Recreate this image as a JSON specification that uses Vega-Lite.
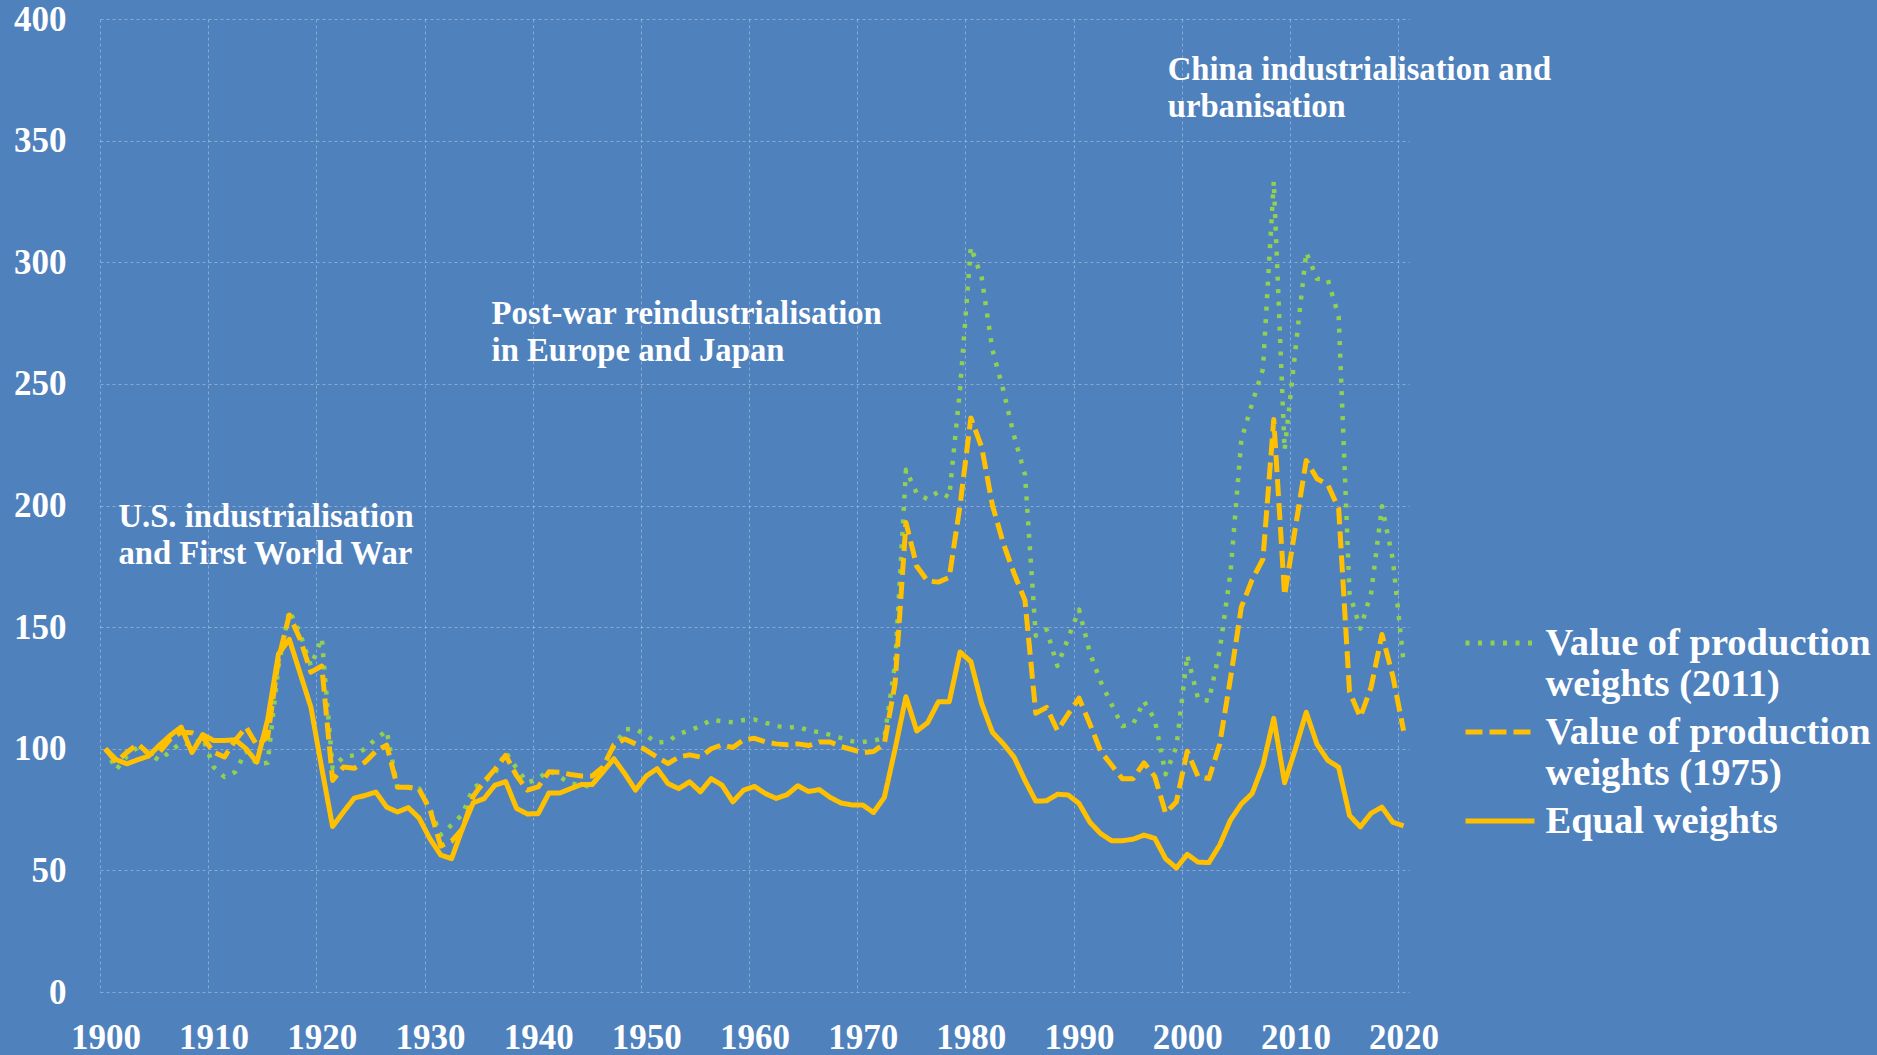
{
  "$schema": "https://vega.github.io/schema/vega-lite/v6.json",
  "width": 1309,
  "height": 973,
  "autosize": {"type": "none"},
  "padding": {"left": 100, "top": 19, "right": 468, "bottom": 63},
  "background": "#4F81BD",
  "datasets": {
    "index": [
      {"year":1900,"w2011":100,"w1975":100,"equal":100},
      {"year":1901,"w2011":91.4,"w1975":94.5,"equal":95.5},
      {"year":1902,"w2011":97,"w1975":98.6,"equal":93.8},
      {"year":1903,"w2011":100.7,"w1975":102,"equal":95.5},
      {"year":1904,"w2011":98,"w1975":98,"equal":97},
      {"year":1905,"w2011":95.2,"w1975":98.6,"equal":101.5},
      {"year":1906,"w2011":99,"w1975":104,"equal":105.5},
      {"year":1907,"w2011":102.5,"w1975":106.8,"equal":108.9},
      {"year":1908,"w2011":101.5,"w1975":106.6,"equal":98.5},
      {"year":1909,"w2011":104.5,"w1975":104.8,"equal":105.8},
      {"year":1910,"w2011":92.5,"w1975":98.6,"equal":103.4},
      {"year":1911,"w2011":88.4,"w1975":96.6,"equal":103.4},
      {"year":1912,"w2011":90.5,"w1975":103.4,"equal":103.7},
      {"year":1913,"w2011":99,"w1975":108.9,"equal":100},
      {"year":1914,"w2011":93.8,"w1975":101.4,"equal":94.5},
      {"year":1915,"w2011":94.2,"w1975":104.8,"equal":112},
      {"year":1916,"w2011":134,"w1975":137,"equal":139},
      {"year":1917,"w2011":156.8,"w1975":155,"equal":145},
      {"year":1918,"w2011":147.3,"w1975":145,"equal":131},
      {"year":1919,"w2011":134,"w1975":131.5,"equal":117},
      {"year":1920,"w2011":145.5,"w1975":134,"equal":92},
      {"year":1921,"w2011":92,"w1975":87,"equal":68},
      {"year":1922,"w2011":96.6,"w1975":92.5,"equal":74},
      {"year":1923,"w2011":97.3,"w1975":92,"equal":79.7},
      {"year":1924,"w2011":100,"w1975":94.5,"equal":80.8},
      {"year":1925,"w2011":104,"w1975":99,"equal":82.2},
      {"year":1926,"w2011":107.5,"w1975":101.5,"equal":76},
      {"year":1927,"w2011":83.8,"w1975":84.2,"equal":74},
      {"year":1928,"w2011":84,"w1975":84.2,"equal":75.8},
      {"year":1929,"w2011":83.6,"w1975":83.3,"equal":71.5},
      {"year":1930,"w2011":75.5,"w1975":75,"equal":63},
      {"year":1931,"w2011":64.6,"w1975":60,"equal":56.3},
      {"year":1932,"w2011":68.7,"w1975":62,"equal":54.8},
      {"year":1933,"w2011":73,"w1975":67,"equal":67.2},
      {"year":1934,"w2011":84,"w1975":80.5,"equal":77.8},
      {"year":1935,"w2011":86.4,"w1975":86.5,"equal":79.5},
      {"year":1936,"w2011":89.8,"w1975":91.5,"equal":85},
      {"year":1937,"w2011":98.6,"w1975":97.3,"equal":86.5},
      {"year":1938,"w2011":92,"w1975":89,"equal":75.5},
      {"year":1939,"w2011":86.1,"w1975":83,"equal":73.2},
      {"year":1940,"w2011":87.7,"w1975":84.3,"equal":73.3},
      {"year":1941,"w2011":91.1,"w1975":90.5,"equal":81.8},
      {"year":1942,"w2011":88.4,"w1975":90.3,"equal":81.8},
      {"year":1943,"w2011":85.7,"w1975":89.4,"equal":83.6},
      {"year":1944,"w2011":85,"w1975":88.8,"equal":85.3},
      {"year":1945,"w2011":84.3,"w1975":88.8,"equal":85.3},
      {"year":1946,"w2011":93,"w1975":92.5,"equal":90.5},
      {"year":1947,"w2011":100.7,"w1975":101.6,"equal":95.9},
      {"year":1948,"w2011":108,"w1975":104,"equal":89.8},
      {"year":1949,"w2011":108.2,"w1975":102,"equal":83},
      {"year":1950,"w2011":105.4,"w1975":99.3,"equal":88.8},
      {"year":1951,"w2011":102.5,"w1975":96.6,"equal":91.8},
      {"year":1952,"w2011":103,"w1975":93.9,"equal":85.7},
      {"year":1953,"w2011":106.1,"w1975":96.6,"equal":83.6},
      {"year":1954,"w2011":107.5,"w1975":97.5,"equal":86.4},
      {"year":1955,"w2011":109.3,"w1975":96.6,"equal":82.3},
      {"year":1956,"w2011":111.9,"w1975":100,"equal":87.7},
      {"year":1957,"w2011":111.3,"w1975":101.6,"equal":85},
      {"year":1958,"w2011":110.9,"w1975":100.5,"equal":78.2},
      {"year":1959,"w2011":111.8,"w1975":103.7,"equal":83},
      {"year":1960,"w2011":112,"w1975":104.3,"equal":84.5},
      {"year":1961,"w2011":110.7,"w1975":102.8,"equal":81.6},
      {"year":1962,"w2011":109.4,"w1975":102,"equal":79.6},
      {"year":1963,"w2011":108.6,"w1975":101.6,"equal":81.1},
      {"year":1964,"w2011":109.1,"w1975":102,"equal":84.8},
      {"year":1965,"w2011":107.5,"w1975":101.3,"equal":82.4},
      {"year":1966,"w2011":106.8,"w1975":102.8,"equal":83.2},
      {"year":1967,"w2011":105.7,"w1975":102.8,"equal":80},
      {"year":1968,"w2011":104.4,"w1975":100.9,"equal":77.7},
      {"year":1969,"w2011":103.1,"w1975":99.7,"equal":76.9},
      {"year":1970,"w2011":102.8,"w1975":98.4,"equal":76.9},
      {"year":1971,"w2011":103.3,"w1975":98.9,"equal":73.8},
      {"year":1972,"w2011":104.4,"w1975":102,"equal":80},
      {"year":1973,"w2011":135,"w1975":127,"equal":100},
      {"year":1974,"w2011":214.7,"w1975":193,"equal":121.4},
      {"year":1975,"w2011":205,"w1975":175,"equal":107.3},
      {"year":1976,"w2011":202.6,"w1975":169,"equal":110.7},
      {"year":1977,"w2011":205.7,"w1975":168.5,"equal":119.3},
      {"year":1978,"w2011":203.4,"w1975":170.4,"equal":119.3},
      {"year":1979,"w2011":248,"w1975":200,"equal":139.8},
      {"year":1980,"w2011":306.3,"w1975":236,"equal":135.8},
      {"year":1981,"w2011":293.7,"w1975":224,"equal":118.5},
      {"year":1982,"w2011":263.9,"w1975":200,"equal":106.7},
      {"year":1983,"w2011":247.4,"w1975":184.5,"equal":102},
      {"year":1984,"w2011":228.5,"w1975":172,"equal":96.5},
      {"year":1985,"w2011":212.8,"w1975":161,"equal":87},
      {"year":1986,"w2011":146.5,"w1975":114.6,"equal":78.5},
      {"year":1987,"w2011":149,"w1975":117,"equal":78.6},
      {"year":1988,"w2011":134,"w1975":107.5,"equal":81.3},
      {"year":1989,"w2011":145.5,"w1975":114.3,"equal":81},
      {"year":1990,"w2011":157.2,"w1975":120.8,"equal":77.5},
      {"year":1991,"w2011":139.4,"w1975":110.2,"equal":69.8},
      {"year":1992,"w2011":127.6,"w1975":99,"equal":65.1},
      {"year":1993,"w2011":118.3,"w1975":93.3,"equal":62.2},
      {"year":1994,"w2011":109.3,"w1975":87.7,"equal":62.2},
      {"year":1995,"w2011":110.2,"w1975":87.7,"equal":62.8},
      {"year":1996,"w2011":119.6,"w1975":94.2,"equal":64.5},
      {"year":1997,"w2011":112,"w1975":88.6,"equal":63.2},
      {"year":1998,"w2011":89.5,"w1975":73.5,"equal":54.8},
      {"year":1999,"w2011":100.8,"w1975":78.2,"equal":51},
      {"year":2000,"w2011":138.5,"w1975":99,"equal":56.6},
      {"year":2001,"w2011":120.6,"w1975":88.6,"equal":53.4},
      {"year":2002,"w2011":119.7,"w1975":87.7,"equal":53.2},
      {"year":2003,"w2011":140.4,"w1975":101.8,"equal":60.4},
      {"year":2004,"w2011":172.4,"w1975":129,"equal":70.7},
      {"year":2005,"w2011":227,"w1975":158.2,"equal":77.3},
      {"year":2006,"w2011":242,"w1975":169.5,"equal":81.6},
      {"year":2007,"w2011":256.1,"w1975":178,"equal":93.3},
      {"year":2008,"w2011":333.3,"w1975":235.4,"equal":112.5},
      {"year":2009,"w2011":222.8,"w1975":163,"equal":86},
      {"year":2010,"w2011":264,"w1975":191,"equal":99.9},
      {"year":2011,"w2011":304.1,"w1975":218.5,"equal":115},
      {"year":2012,"w2011":293.2,"w1975":211,"equal":101.8},
      {"year":2013,"w2011":292.8,"w1975":208.5,"equal":95.2},
      {"year":2014,"w2011":277.8,"w1975":198.7,"equal":92.4},
      {"year":2015,"w2011":164,"w1975":123.4,"equal":72.6},
      {"year":2016,"w2011":149.4,"w1975":113,"equal":67.9},
      {"year":2017,"w2011":164,"w1975":125.3,"equal":73.5},
      {"year":2018,"w2011":199.7,"w1975":147,"equal":76},
      {"year":2019,"w2011":178,"w1975":130,"equal":69.8},
      {"year":2020,"w2011":135.5,"w1975":107.4,"equal":68.3}
    ],
    "notes": [
      {"year": 1998.2, "value": 374.9, "label": "China industrialisation and\nurbanisation"},
      {"year": 1935.7, "value": 274.6, "label": "Post-war reindustrialisation\nin Europe and Japan"},
      {"year": 1901.2, "value": 191.2, "label": "U.S. industrialisation\nand First World War"}
    ]
  },
  "encoding": {
    "x": {
      "field": "year", "type": "quantitative",
      "scale": {"domain": [1899.5, 2020.5], "nice": false, "zero": false},
      "axis": {
        "values": [1899.5, 1909.5, 1919.5, 1929.5, 1939.5, 1949.5, 1959.5, 1969.5, 1979.5, 1989.5, 1999.5, 2009.5, 2019.5],
        "labelExpr": "format(datum.value + 0.5, 'd')",
        "labelOffset": 5.4,
        "labelPadding": 28,
        "labelFlush": false,
        "labelOverlap": false,
        "title": null
      }
    },
    "y": {
      "field": "value", "type": "quantitative",
      "scale": {"domain": [0, 400], "nice": false},
      "axis": {
        "values": [0, 50, 100, 150, 200, 250, 300, 350, 400],
        "labelPadding": 34,
        "labelFlush": false,
        "labelOverlap": false,
        "title": null
      }
    }
  },
  "layer": [
    {
      "data": {"name": "index"},
      "transform": [
        {"fold": ["w2011", "w1975", "equal"], "as": ["series", "value"]},
        {"filter": "datum.series == 'w2011'"}
      ],
      "mark": {"type": "line", "strokeWidth": 4.5, "strokeJoin": "round", "strokeCap": "butt"},
      "encoding": {
        "color": {"field": "series", "type": "nominal",
          "scale": {"domain": ["w2011", "w1975", "equal"], "range": ["#92D050", "#FFC000", "#FFC000"]},
          "legend": {
            "orient": "none", "legendX": 1380, "legendY": 604, "title": null,
            "symbolType": "M-2,0H2", "symbolSize": 1190, "symbolStrokeWidth": 5,
            "labelFont": "Liberation Serif", "labelFontWeight": "bold", "labelFontSize": 38.5,
            "labelColor": "white", "labelLimit": 0, "labelOffset": 25.5, "rowPadding": 9, "padding": 0,
            "labelExpr": "datum.label == 'w2011' ? ['Value of production', 'weights (2011)'] : datum.label == 'w1975' ? ['Value of production', 'weights (1975)'] : 'Equal weights'"
          }
        },
        "strokeDash": {"field": "series", "type": "nominal",
          "scale": {"domain": ["w2011", "w1975", "equal"], "range": [[4, 8.5], [17, 7], [1, 0]]},
          "legend": {
            "orient": "none", "legendX": 1380, "legendY": 604, "title": null,
            "symbolType": "M-2,0H2", "symbolSize": 1190, "symbolStrokeWidth": 5,
            "labelFont": "Liberation Serif", "labelFontWeight": "bold", "labelFontSize": 38.5,
            "labelColor": "white", "labelLimit": 0, "labelOffset": 25.5, "rowPadding": 9, "padding": 0,
            "labelExpr": "datum.label == 'w2011' ? ['Value of production', 'weights (2011)'] : datum.label == 'w1975' ? ['Value of production', 'weights (1975)'] : 'Equal weights'"
          }
        }
      }
    },
    {
      "data": {"name": "index"},
      "transform": [
        {"fold": ["w2011", "w1975", "equal"], "as": ["series", "value"]},
        {"filter": "datum.series == 'w1975'"}
      ],
      "mark": {"type": "line", "strokeWidth": 5, "strokeJoin": "round", "strokeCap": "butt"},
      "encoding": {
        "color": {"field": "series", "type": "nominal"},
        "strokeDash": {"field": "series", "type": "nominal"}
      }
    },
    {
      "data": {"name": "index"},
      "transform": [
        {"fold": ["w2011", "w1975", "equal"], "as": ["series", "value"]},
        {"filter": "datum.series == 'equal'"}
      ],
      "mark": {"type": "line", "strokeWidth": 5, "strokeJoin": "round", "strokeCap": "butt"},
      "encoding": {
        "color": {"field": "series", "type": "nominal"},
        "strokeDash": {"field": "series", "type": "nominal"}
      }
    },
    {
      "data": {"name": "notes"},
      "mark": {"type": "text", "align": "left", "baseline": "alphabetic", "font": "Liberation Serif", "fontWeight": "bold", "fontSize": 32.7, "color": "white", "lineBreak": "\n", "lineHeight": 37},
      "encoding": {
        "text": {"field": "label"}
      }
    }
  ],
  "config": {
    "view": {"stroke": null},
    "axis": {
      "labelFont": "Liberation Serif", "labelFontWeight": "bold", "labelFontSize": 35, "labelColor": "white",
      "domain": false, "ticks": false, "tickSize": 0,
      "grid": true, "gridColor": "#d0dcee", "gridOpacity": 0.45, "gridDash": [3, 3], "gridWidth": 1
    }
  }
}
